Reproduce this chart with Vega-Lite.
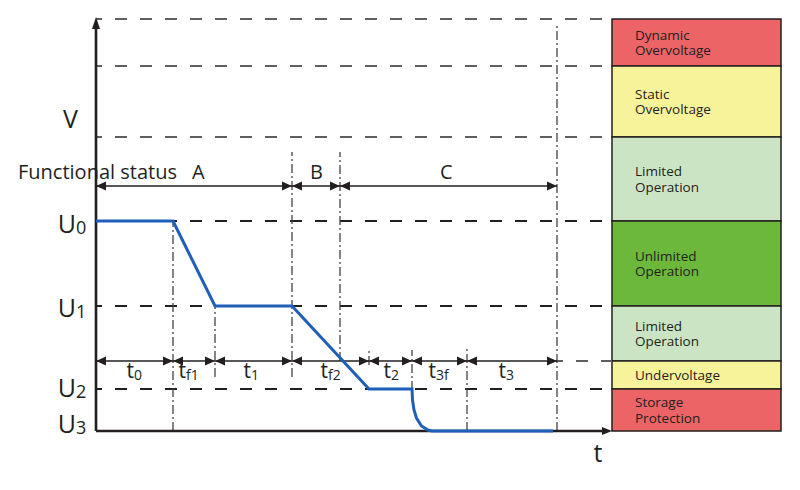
{
  "$schema": "https://vega.github.io/schema/vega-lite/v6.json",
  "width": 800,
  "height": 490,
  "autosize": {"type": "none"},
  "padding": 0,
  "background": "white",
  "config": {"view": {"stroke": null}, "text": {"font": "Open Sans", "color": "#231f20"}},
  "datasets": {
    "boxes": [
      {"label": "Dynamic\nOvervoltage", "t": 516, "t2": 685, "v": 365, "v2": 412, "zone": "critical"},
      {"label": "Static\nOvervoltage", "t": 516, "t2": 685, "v": 294, "v2": 365, "zone": "warning"},
      {"label": "Limited\nOperation", "t": 516, "t2": 685, "v": 210, "v2": 294, "zone": "limited"},
      {"label": "Unlimited\nOperation", "t": 516, "t2": 685, "v": 125, "v2": 210, "zone": "normal"},
      {"label": "Limited\nOperation", "t": 516, "t2": 685, "v": 70, "v2": 125, "zone": "limited"},
      {"label": "Undervoltage", "t": 516, "t2": 685, "v": 42, "v2": 70, "zone": "warning"},
      {"label": "Storage\nProtection", "t": 516, "t2": 685, "v": 0, "v2": 42, "zone": "critical"}
    ],
    "levels": [
      {"v": 412, "t": 0, "t2": 516, "tone": "light"},
      {"v": 365, "t": 0, "t2": 516, "tone": "light"},
      {"v": 294, "t": 0, "t2": 516, "tone": "light"},
      {"v": 210, "t": 0, "t2": 516, "tone": "dark"},
      {"v": 125, "t": 0, "t2": 516, "tone": "dark"},
      {"v": 42, "t": 0, "t2": 516, "tone": "dark"},
      {"v": 70, "t": 461, "t2": 516, "tone": "light"}
    ],
    "verticals": [
      {"t": 77, "v": 0, "v2": 210},
      {"t": 119, "v": 54, "v2": 125},
      {"t": 196, "v": 54, "v2": 279},
      {"t": 244, "v": 70, "v2": 279},
      {"t": 273, "v": 66, "v2": 81},
      {"t": 316, "v": 41, "v2": 81},
      {"t": 371, "v": 0, "v2": 83},
      {"t": 461, "v": 0, "v2": 408}
    ],
    "spans": [
      {"a": 0, "b": 196, "v": 245},
      {"a": 196, "b": 244, "v": 245},
      {"a": 244, "b": 461, "v": 245},
      {"a": 0, "b": 77, "v": 70},
      {"a": 77, "b": 119, "v": 70},
      {"a": 119, "b": 196, "v": 70},
      {"a": 196, "b": 273, "v": 70},
      {"a": 273, "b": 316, "v": 70},
      {"a": 316, "b": 371, "v": 70},
      {"a": 371, "b": 461, "v": 70}
    ],
    "axes": [
      {"t": 0, "t2": 0, "v": 0, "v2": 405},
      {"t": 0, "t2": 509, "v": 0, "v2": 0}
    ],
    "axisTips": [
      {"t": 0, "v": 414, "dir": "up"},
      {"t": 516, "v": 0, "dir": "right"}
    ],
    "voltage": [
      {"i": 0, "t": 0, "v": 210},
      {"i": 1, "t": 77, "v": 210},
      {"i": 2, "t": 119, "v": 125},
      {"i": 3, "t": 196, "v": 125},
      {"i": 4, "t": 273, "v": 42},
      {"i": 5, "t": 316, "v": 42},
      {"i": 6, "t": 316.5, "v": 31},
      {"i": 7, "t": 318, "v": 21},
      {"i": 8, "t": 320.5, "v": 13},
      {"i": 9, "t": 325.5, "v": 5},
      {"i": 10, "t": 332, "v": 1},
      {"i": 11, "t": 336, "v": 0},
      {"i": 12, "t": 457, "v": 0}
    ],
    "status": [
      {"text": "Functional status", "t": -78, "v": 252},
      {"text": "A", "t": 96, "v": 252},
      {"text": "B", "t": 214, "v": 252},
      {"text": "C", "t": 344, "v": 252}
    ],
    "axisNames": [
      {"text": "V", "t": -25.5, "v": 303},
      {"text": "t", "t": 502, "v": -31}
    ],
    "ulabels": [
      {"main": "U", "sub": "0", "t": -20, "v": 198},
      {"main": "U", "sub": "1", "t": -20, "v": 114},
      {"main": "U", "sub": "2", "t": -20, "v": 34},
      {"main": "U", "sub": "3", "t": -20, "v": -2}
    ],
    "tlabels": [
      {"main": "t", "sub": "0", "t": 38, "v": 53},
      {"main": "t", "sub": "f1", "t": 90, "v": 53},
      {"main": "t", "sub": "1", "t": 155, "v": 53},
      {"main": "t", "sub": "f2", "t": 232, "v": 53},
      {"main": "t", "sub": "2", "t": 295, "v": 53},
      {"main": "t", "sub": "3f", "t": 340, "v": 53},
      {"main": "t", "sub": "3", "t": 410, "v": 53}
    ]
  },
  "layer": [
    {
      "data": {"name": "boxes"},
      "mark": {"type": "rect", "stroke": "#231f20", "strokeWidth": 1.5},
      "encoding": {
        "x": {"field": "t", "type": "quantitative", "scale": {"domain": [-96, 704], "nice": false, "zero": false}, "axis": null},
        "x2": {"field": "t2"},
        "y": {"field": "v", "type": "quantitative", "scale": {"domain": [-59, 431], "nice": false, "zero": false}, "axis": null},
        "y2": {"field": "v2"},
        "fill": {"field": "zone", "type": "nominal", "scale": {"domain": ["critical", "warning", "limited", "normal"], "range": ["#ec6466", "#f7f39b", "#cbe5c4", "#6cb83a"]}, "legend": null}
      }
    },
    {
      "data": {"name": "boxes"},
      "transform": [{"calculate": "(datum.v + datum.v2) / 2 + (indexof(datum.label, '\\n') >= 0 ? 7 : -1)", "as": "mid"}],
      "mark": {"type": "text", "align": "left", "baseline": "middle", "fontSize": 13.5, "lineBreak": "\n", "lineHeight": 15.5, "color": "#231f20"},
      "encoding": {
        "x": {"datum": 539, "type": "quantitative", "scale": {"domain": [-96, 704], "nice": false, "zero": false}, "axis": null},
        "y": {"field": "mid", "type": "quantitative", "scale": {"domain": [-59, 431], "nice": false, "zero": false}, "axis": null},
        "text": {"field": "label"}
      }
    },
    {
      "data": {"name": "levels"},
      "mark": {"type": "rule", "strokeWidth": 2, "strokeDash": [12, 13], "strokeDashOffset": 6},
      "encoding": {
        "x": {"field": "t", "type": "quantitative", "scale": {"domain": [-96, 704], "nice": false, "zero": false}, "axis": null},
        "x2": {"field": "t2"},
        "y": {"field": "v", "type": "quantitative", "scale": {"domain": [-59, 431], "nice": false, "zero": false}, "axis": null},
        "color": {"field": "tone", "type": "nominal", "scale": {"domain": ["light", "dark"], "range": ["#5f5f5f", "#231f20"]}, "legend": null}
      }
    },
    {
      "data": {"name": "verticals"},
      "mark": {"type": "rule", "strokeWidth": 1.3, "strokeDash": [9, 3, 2, 3], "color": "#444444"},
      "encoding": {
        "x": {"field": "t", "type": "quantitative", "scale": {"domain": [-96, 704], "nice": false, "zero": false}, "axis": null},
        "y": {"field": "v", "type": "quantitative", "scale": {"domain": [-59, 431], "nice": false, "zero": false}, "axis": null},
        "y2": {"field": "v2"}
      }
    },
    {
      "data": {"name": "spans"},
      "mark": {"type": "rule", "strokeWidth": 1.6, "color": "#231f20"},
      "encoding": {
        "x": {"field": "a", "type": "quantitative", "scale": {"domain": [-96, 704], "nice": false, "zero": false}, "axis": null},
        "x2": {"field": "b"},
        "y": {"field": "v", "type": "quantitative", "scale": {"domain": [-59, 431], "nice": false, "zero": false}, "axis": null}
      }
    },
    {
      "data": {"name": "spans"},
      "mark": {"type": "point", "shape": "M0,0L2,-0.9L2,0.9Z", "size": 100, "filled": true, "color": "#231f20", "opacity": 1},
      "encoding": {
        "x": {"field": "a", "type": "quantitative", "scale": {"domain": [-96, 704], "nice": false, "zero": false}, "axis": null},
        "y": {"field": "v", "type": "quantitative", "scale": {"domain": [-59, 431], "nice": false, "zero": false}, "axis": null}
      }
    },
    {
      "data": {"name": "spans"},
      "mark": {"type": "point", "shape": "M0,0L-2,-0.9L-2,0.9Z", "size": 100, "filled": true, "color": "#231f20", "opacity": 1},
      "encoding": {
        "x": {"field": "b", "type": "quantitative", "scale": {"domain": [-96, 704], "nice": false, "zero": false}, "axis": null},
        "y": {"field": "v", "type": "quantitative", "scale": {"domain": [-59, 431], "nice": false, "zero": false}, "axis": null}
      }
    },
    {
      "data": {"name": "axes"},
      "mark": {"type": "rule", "strokeWidth": 2.6, "color": "#231f20"},
      "encoding": {
        "x": {"field": "t", "type": "quantitative", "scale": {"domain": [-96, 704], "nice": false, "zero": false}, "axis": null},
        "x2": {"field": "t2"},
        "y": {"field": "v", "type": "quantitative", "scale": {"domain": [-59, 431], "nice": false, "zero": false}, "axis": null},
        "y2": {"field": "v2"}
      }
    },
    {
      "data": {"name": "axisTips"},
      "mark": {"type": "point", "size": 64, "filled": true, "color": "#231f20", "opacity": 1},
      "encoding": {
        "x": {"field": "t", "type": "quantitative", "scale": {"domain": [-96, 704], "nice": false, "zero": false}, "axis": null},
        "y": {"field": "v", "type": "quantitative", "scale": {"domain": [-59, 431], "nice": false, "zero": false}, "axis": null},
        "shape": {"field": "dir", "type": "nominal", "scale": {"domain": ["up", "right"], "range": ["M0,0L-1,3L1,3Z", "M0,0L-2.5,-1L-2.5,1Z"]}, "legend": null}
      }
    },
    {
      "data": {"name": "voltage"},
      "mark": {"type": "line", "strokeWidth": 3, "color": "#1f5fb8"},
      "encoding": {
        "x": {"field": "t", "type": "quantitative", "scale": {"domain": [-96, 704], "nice": false, "zero": false}, "axis": null},
        "y": {"field": "v", "type": "quantitative", "scale": {"domain": [-59, 431], "nice": false, "zero": false}, "axis": null},
        "order": {"field": "i", "type": "quantitative"}
      }
    },
    {
      "data": {"name": "status"},
      "mark": {"type": "text", "align": "left", "baseline": "alphabetic", "fontSize": 20, "color": "#231f20"},
      "encoding": {
        "x": {"field": "t", "type": "quantitative", "scale": {"domain": [-96, 704], "nice": false, "zero": false}, "axis": null},
        "y": {"field": "v", "type": "quantitative", "scale": {"domain": [-59, 431], "nice": false, "zero": false}, "axis": null},
        "text": {"field": "text"}
      }
    },
    {
      "data": {"name": "axisNames"},
      "mark": {"type": "text", "align": "center", "baseline": "alphabetic", "fontSize": 25, "color": "#231f20"},
      "encoding": {
        "x": {"field": "t", "type": "quantitative", "scale": {"domain": [-96, 704], "nice": false, "zero": false}, "axis": null},
        "y": {"field": "v", "type": "quantitative", "scale": {"domain": [-59, 431], "nice": false, "zero": false}, "axis": null},
        "text": {"field": "text"}
      }
    },
    {
      "data": {"name": "ulabels"},
      "mark": {"type": "text", "align": "right", "baseline": "alphabetic", "fontSize": 25, "color": "#231f20"},
      "encoding": {
        "x": {"field": "t", "type": "quantitative", "scale": {"domain": [-96, 704], "nice": false, "zero": false}, "axis": null},
        "y": {"field": "v", "type": "quantitative", "scale": {"domain": [-59, 431], "nice": false, "zero": false}, "axis": null},
        "text": {"field": "main"}
      }
    },
    {
      "data": {"name": "ulabels"},
      "mark": {"type": "text", "align": "left", "baseline": "alphabetic", "fontSize": 18, "dy": 1, "color": "#231f20"},
      "encoding": {
        "x": {"field": "t", "type": "quantitative", "scale": {"domain": [-96, 704], "nice": false, "zero": false}, "axis": null},
        "y": {"field": "v", "type": "quantitative", "scale": {"domain": [-59, 431], "nice": false, "zero": false}, "axis": null},
        "text": {"field": "sub"}
      }
    },
    {
      "data": {"name": "tlabels"},
      "mark": {"type": "text", "align": "right", "baseline": "alphabetic", "fontSize": 21, "color": "#231f20"},
      "encoding": {
        "x": {"field": "t", "type": "quantitative", "scale": {"domain": [-96, 704], "nice": false, "zero": false}, "axis": null},
        "y": {"field": "v", "type": "quantitative", "scale": {"domain": [-59, 431], "nice": false, "zero": false}, "axis": null},
        "text": {"field": "main"}
      }
    },
    {
      "data": {"name": "tlabels"},
      "mark": {"type": "text", "align": "left", "baseline": "alphabetic", "fontSize": 14, "dy": 2, "color": "#231f20"},
      "encoding": {
        "x": {"field": "t", "type": "quantitative", "scale": {"domain": [-96, 704], "nice": false, "zero": false}, "axis": null},
        "y": {"field": "v", "type": "quantitative", "scale": {"domain": [-59, 431], "nice": false, "zero": false}, "axis": null},
        "text": {"field": "sub"}
      }
    }
  ]
}
